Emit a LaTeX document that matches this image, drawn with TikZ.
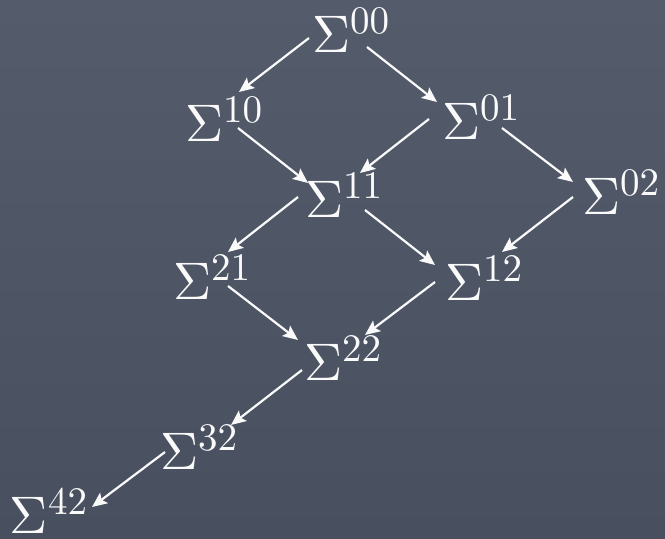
\RequirePackage{fix-cm}
\documentclass[tikz,border=0pt]{standalone}
\usetikzlibrary{arrows.meta}
\DeclareFontShape{OT1}{cmr}{m}{n}{<->cmr10}{}
\DeclareMathSizes{26.4}{26.4}{19.5}{14}
\definecolor{boardtop}{RGB}{84,92,108}
\definecolor{boardbot}{RGB}{72,80,95}
\definecolor{chalk}{RGB}{250,250,250}
\begin{document}
\begin{tikzpicture}[x=0.5pt,y=-0.5pt,
  sig/.style={anchor=base west, inner sep=0pt, outer sep=0pt, text=chalk, font=\fontsize{26.4}{31}\selectfont},
  arr/.style={draw=chalk, line width=1.1pt, -{Stealth[length=7.5pt,width=6.5pt,inset=1.5pt]}}]
\useasboundingbox (0,0) rectangle (665,539);
\shade[top color=boardtop, bottom color=boardbot] (0,0) rectangle (665,539);
\node[sig] (n00) at (312,53) {$\Sigma^{00}$};
\node[sig] (n10) at (185,142) {$\Sigma^{10}$};
\node[sig] (n01) at (442,140) {$\Sigma^{01}$};
\node[sig] (n11) at (305,218) {$\Sigma^{11}$};
\node[sig] (n02) at (582,215) {$\Sigma^{02}$};
\node[sig] (n21) at (173,300) {$\Sigma^{21}$};
\node[sig] (n12) at (445,301) {$\Sigma^{12}$};
\node[sig] (n22) at (304,381) {$\Sigma^{22}$};
\node[sig] (n32) at (160,470) {$\Sigma^{32}$};
\node[sig] (n42) at (10,534) {$\Sigma^{42}$};
\draw[arr] ([shift={(-3,-15)}]n00.base west) -- ([shift={(54,-50)}]n10.base west);
\draw[arr] ([shift={(55,-6)}]n00.base west) -- ([shift={(-5,-38)}]n01.base west);
\draw[arr] ([shift={(53,-14)}]n10.base west) -- ([shift={(3,-35)}]n11.base west);
\draw[arr] ([shift={(-13,-21)}]n01.base west) -- ([shift={(55,-45)}]n11.base west);
\draw[arr] ([shift={(60,-12)}]n01.base west) -- ([shift={(-9,-33)}]n02.base west);
\draw[arr] ([shift={(-7,-21)}]n11.base west) -- ([shift={(55,-48)}]n21.base west);
\draw[arr] ([shift={(60,-8)}]n11.base west) -- ([shift={(-10,-36)}]n12.base west);
\draw[arr] ([shift={(-9,-18)}]n02.base west) -- ([shift={(57,-49)}]n12.base west);
\draw[arr] ([shift={(55,-14)}]n21.base west) -- ([shift={(-6,-41)}]n22.base west);
\draw[arr] ([shift={(-10,-19)}]n12.base west) -- ([shift={(61,-46)}]n22.base west);
\draw[arr] ([shift={(-2,-11)}]n22.base west) -- ([shift={(71,-45)}]n32.base west);
\draw[arr] ([shift={(5,-18)}]n32.base west) -- ([shift={(82,-27)}]n42.base west);
\end{tikzpicture}
\end{document}
